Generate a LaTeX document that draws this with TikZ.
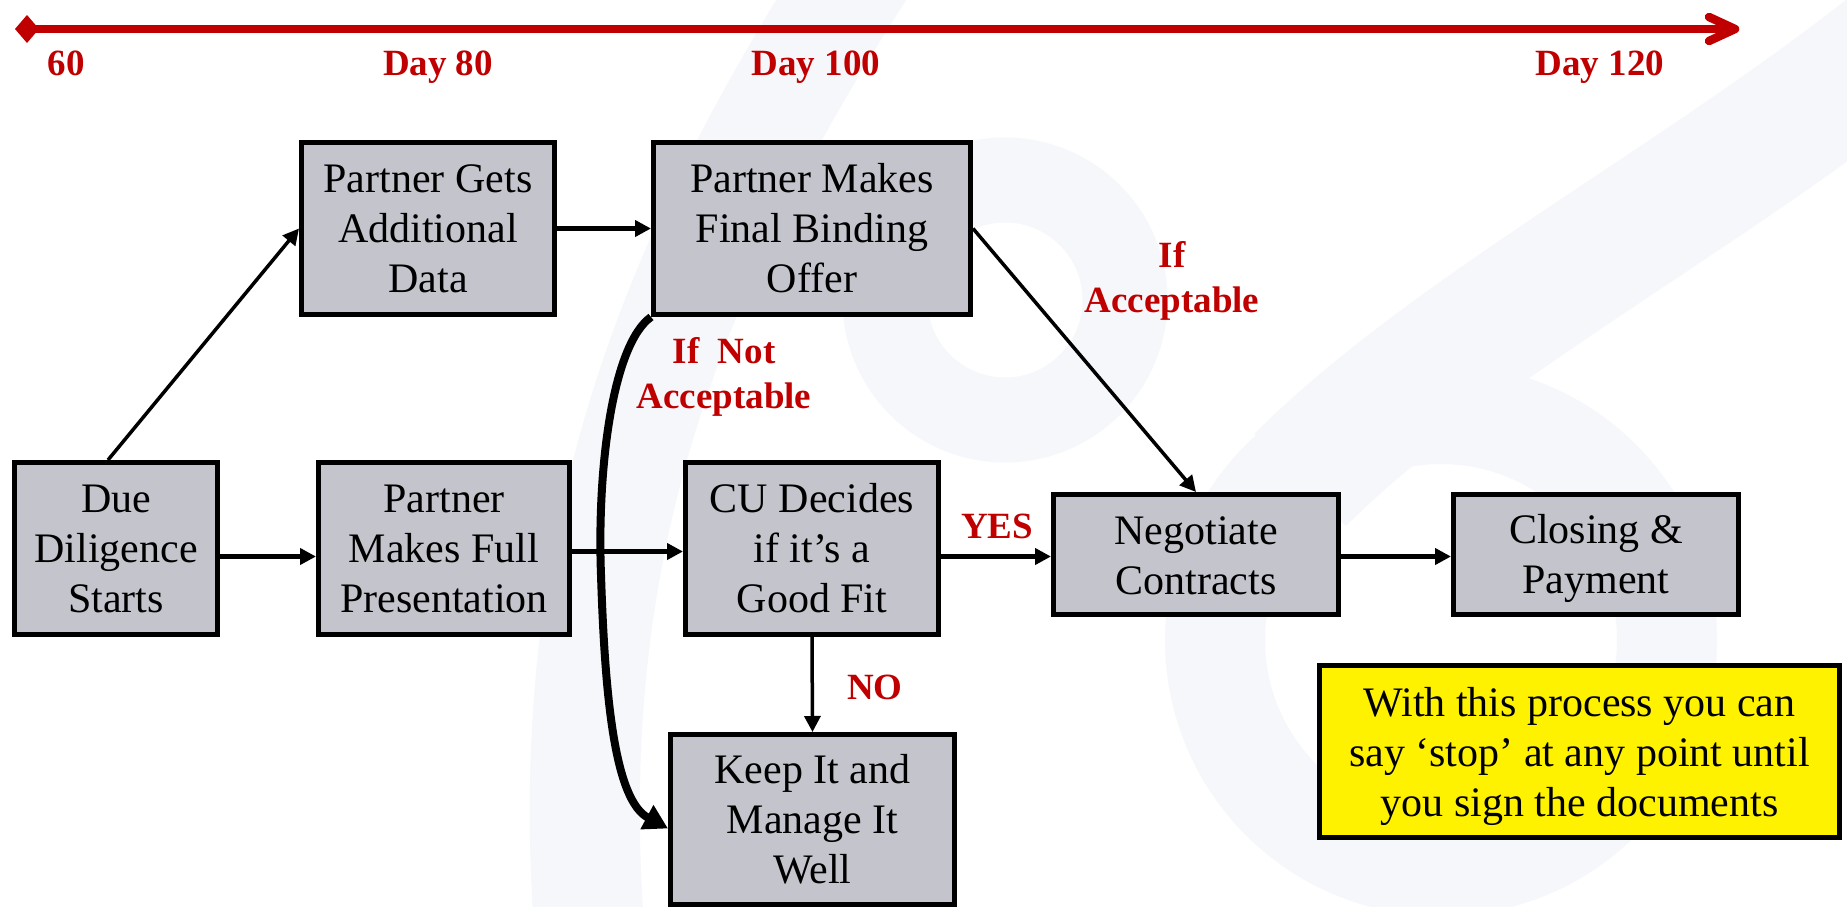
\documentclass[tikz,border=0pt]{standalone}
\usepackage{fontspec}
\setmainfont{Liberation Serif}
\usetikzlibrary{arrows.meta}
\definecolor{boxgray}{RGB}{196,196,204}
\definecolor{labelred}{RGB}{192,0,0}
\definecolor{logotint}{RGB}{245,247,250}

\begin{document}
\begin{tikzpicture}[x=1pt,y=-1pt,
  stepbox/.style={draw=black, line width=5pt, fill=boxgray, align=center,
    inner sep=0pt, font=\fontsize{42}{50}\selectfont},
  notebox/.style={stepbox, fill=yellow},
  cue/.style={text=labelred, font=\bfseries\fontsize{37}{45}\selectfont,
    align=center, inner sep=0pt},
  flow/.style={line width=4.5pt, -{Triangle[length=16pt,width=16pt]}},
  link/.style={line width=3.5pt, -{Triangle[length=16pt,width=16pt]}},
  loopback/.style={line width=8pt, -{Triangle[length=24pt,width=26pt]}},
  timeline/.style={draw=labelred, line width=8.5pt},
  watermark/.style={draw=logotint, line width=#1},
]
% page
\fill[white] (0,0) rectangle (1847,907);
\useasboundingbox (0,0) rectangle (1847,907);

% faint logo in the background
\begin{scope}
  \clip (0,0) rectangle (1847,907);
  \draw[watermark=110pt] (860,-30) .. controls (660,280) and (560,560) .. (590,940);
  \draw[watermark=85pt] (1005,300) circle[radius=120pt];
  \draw[watermark=100pt] (1441,640) circle[radius=226pt];
  \draw[watermark=130pt] (1900,40) .. controls (1700,200) and (1450,330) .. (1300,480);
\end{scope}

% time axis
\coordinate (tstart) at (27,29);
\coordinate (tend) at (1735,29);
\draw[timeline] (tstart) -- ([xshift=-4pt]tend);
\draw[timeline, line cap=round, line join=round]
  ([xshift=-26pt,yshift=12pt]tend) -- (tend) -- ([xshift=-26pt,yshift=-12pt]tend);
\fill[labelred] ([xshift=-12pt]tstart) -- ([yshift=14pt]tstart)
  -- ([xshift=12pt]tstart) -- ([yshift=-14pt]tstart) -- cycle;

\node[cue, anchor=base] (d60) at (66,76) {60};
\node[cue, anchor=base] (d80) at (438,76) {Day 80};
\node[cue, anchor=base] (d100) at (816,76) {Day 100};
\node[cue, anchor=base] (d120) at (1600,76) {Day 120};

% process steps
\node[stepbox, minimum width=203pt, minimum height=172pt] (due) at (116,548.5) {Due\\Diligence\\Starts};
\node[stepbox, minimum width=251pt, minimum height=172pt] (pres) at (444,548.5) {Partner\\Makes Full\\Presentation};
\node[stepbox, minimum width=253pt, minimum height=172pt] (cu) at (812,548.5) {CU Decides\\if it’s a\\Good Fit};
\node[stepbox, minimum width=253pt, minimum height=172pt] (gets) at (428,228.5) {Partner Gets\\Additional\\Data};
\node[stepbox, minimum width=317pt, minimum height=172pt] (offer) at (812,228.5) {Partner Makes\\Final Binding\\Offer};
\node[stepbox, minimum width=285pt, minimum height=120pt] (neg) at (1196,554.5) {\rule{0pt}{31pt}Negotiate\\Contracts};
\node[stepbox, minimum width=285pt, minimum height=120pt] (close) at (1596,554.5) {\rule{0pt}{38pt}Closing \&\\Payment};
\node[stepbox, minimum width=284pt, minimum height=170pt] (keep) at (812.5,819.5) {Keep It and\\Manage It\\Well};
\node[notebox, minimum width=520pt, minimum height=172pt] (note) at (1579.5,751.5) {\rule{0pt}{40pt}With this process you can\\say ‘stop’ at any point until\\you sign the documents};

% connectors
\draw[link] ([xshift=-8pt]due.north) -- (gets.west);
\draw[flow] (gets.east) -- (offer.west);
\draw[flow] ([yshift=-8pt]due.east) -- ([yshift=-8pt]pres.west);
\draw[flow] ([yshift=-3pt]pres.east) -- ([yshift=-3pt]cu.west);
\draw[flow] ([yshift=-8pt]cu.east) -- ([yshift=-2pt]neg.west);
\draw[flow] ([yshift=-2pt]neg.east) -- ([yshift=-2pt]close.west);
\draw[link] (cu.south) -- (keep.north);
\draw[link] (offer.east) -- (neg.north);
\draw[loopback] (offer.south west) .. controls (612,345) and (597,470) .. (601,575)
  .. controls (605,700) and (615,800) .. ([yshift=-9pt]keep.west);

% branch labels
\node[cue, anchor=base] (yes) at (997,538) {YES};
\node[cue, anchor=base] (no) at (875,699) {NO};
\node[cue] (accept) at (1172,281) {If\\Acceptable};
\node[cue] (reject) at (724,377) {If\ \ Not\\Acceptable};
\end{tikzpicture}
\end{document}
